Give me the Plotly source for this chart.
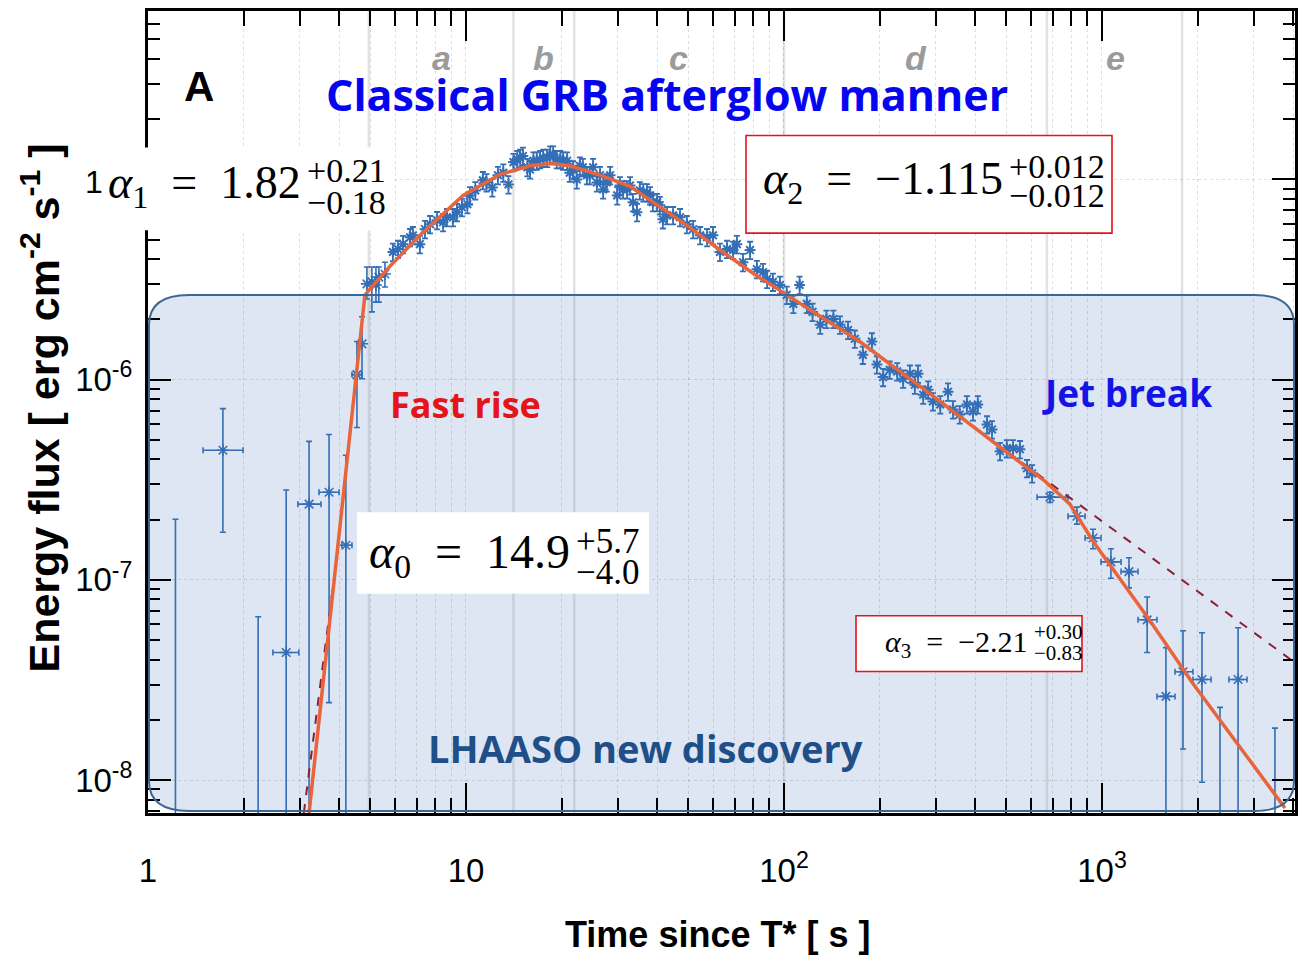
import math
import plotly.graph_objects as go

# ---------------- data ----------------
# dense afterglow light curve: time since T* [s], energy flux [erg cm^-2 s^-1]
dense_t = [5.89, 6.11, 6.34, 6.67, 6.81, 7.16, 7.43, 7.71, 8.11, 8.47, 8.71, 9.10, 9.37, 9.71,
           10.1, 10.3, 10.7, 11.3, 11.6, 12.1, 12.6, 13.1, 13.6, 14.1, 14.5, 14.8, 15.1, 15.6,
           15.9, 16.3, 16.7, 17.1, 17.5, 18.0, 18.4, 18.8, 19.3, 19.8, 20.2, 20.8, 21.2, 21.7,
           22.3, 22.8, 23.3, 24.0, 24.5, 25.1, 25.8, 26.4, 27.0, 27.7, 28.4, 29.9, 30.5, 31.2,
           32.1, 32.8, 33.5, 34.5, 35.2, 36.1, 37.1, 37.9, 38.7, 39.9, 40.7, 41.6, 42.9, 44.8,
           47.1, 49.5, 51.8, 54.5, 57.3, 59.8, 62.9, 66.2, 69.2, 71.1, 74.3, 78.2, 82.2, 85.9,
           88.5, 92.3, 97.1, 102, 107, 112, 118, 123, 130, 136, 143, 150, 159, 167,
           177, 189, 196, 205, 215, 227, 237, 249, 258, 264, 274, 284, 294, 310,
           328, 340, 357, 376, 393, 407, 435, 451, 478, 502, 525, 552, 581, 603]
dense_f = [4.34e-6, 4.49e-6, 4.75e-6, 5.14e-6, 5.26e-6, 4.75e-6, 5.64e-6, 5.97e-6, 6.25e-6, 6.11e-6, 6.47e-6, 6.47e-6, 6.86e-6, 7.26e-6,
           7.52e-6, 8.32e-6, 8.81e-6, 9.90e-6, 9.66e-6, 9.12e-6, 1.05e-5, 1.08e-5, 9.44e-6, 1.22e-5, 1.26e-5, 1.28e-5, 1.31e-5, 1.15e-5,
           1.12e-5, 1.24e-5, 1.24e-5, 1.26e-5, 1.28e-5, 1.28e-5, 1.33e-5, 1.33e-5, 1.26e-5, 1.26e-5, 1.24e-5, 1.24e-5, 1.08e-5, 1.12e-5,
           1.00e-5, 1.17e-5, 1.15e-5, 1.05e-5, 1.05e-5, 1.15e-5, 9.66e-6, 1.05e-5, 8.91e-6, 9.66e-6, 1.05e-5, 8.32e-6, 9.33e-6, 8.91e-6,
           8.91e-6, 9.33e-6, 7.69e-6, 6.86e-6, 8.81e-6, 8.61e-6, 8.61e-6, 8.32e-6, 7.69e-6, 7.69e-6, 7.43e-6, 6.32e-6, 6.62e-6, 6.62e-6,
           6.47e-6, 5.97e-6, 5.64e-6, 5.26e-6, 5.14e-6, 5.26e-6, 4.34e-6, 4.49e-6, 4.44e-6, 4.75e-6, 3.86e-6, 4.44e-6, 3.56e-6, 3.44e-6,
           3.18e-6, 3.08e-6, 2.97e-6, 2.65e-6, 2.39e-6, 2.97e-6, 2.39e-6, 2.18e-6, 1.88e-6, 2.01e-6, 2.01e-6, 1.88e-6, 1.77e-6, 1.60e-6,
           1.33e-6, 1.55e-6, 1.19e-6, 1.03e-6, 1.12e-6, 1.10e-6, 1.01e-6, 1.07e-6, 9.44e-7, 1.07e-6, 8.41e-7, 8.91e-7, 7.78e-7, 7.52e-7,
           8.71e-7, 7.10e-7, 6.70e-7, 7.52e-7, 6.93e-7, 7.52e-7, 5.97e-7, 5.64e-7, 4.39e-7, 4.54e-7, 4.54e-7, 4.49e-7, 3.61e-7, 3.40e-7]
dense_err_pct = 10  # typical relative size of the small error bars

# sparse points with explicit error bars (early LHAASO bins, rise, late bins)
sp_t = [1.22, 1.72, 2.22, 2.72, 3.21, 3.71, 4.19, 4.54, 4.71, 4.88, 5.06, 5.21, 5.32, 5.56,
        686, 834, 937, 1067, 1216, 1387, 1589, 1798, 2063, 2350, 2679, 3499]
sp_t_lo = [1.22, 1.49, 2.22, 2.47, 2.96, 3.45, 4.07, 4.38, 4.71, 4.88, 5.06, 5.21, 5.32, 5.56,
           625, 782, 885, 993, 1148, 1298, 1489, 1697, 1932, 2350, 2508, 3499]
sp_t_hi = [1.22, 1.99, 2.22, 2.98, 3.50, 3.99, 4.38, 4.71, 4.71, 4.88, 5.06, 5.21, 5.32, 5.56,
           782, 885, 993, 1148, 1298, 1489, 1697, 1932, 2203, 2350, 2858, 3499]
sp_f = [3e-9, 4.44e-7, 3e-9, 4.34e-8, 2.39e-7, 2.74e-7, 1.49e-7, 1.06e-6, 1.51e-6, 3.01e-6, 3.08e-6, 2.97e-6, 3.25e-6, 3.37e-6,
        2.59e-7, 2.08e-7, 1.62e-7, 1.23e-7, 1.10e-7, 6.32e-8, 2.62e-8, 3.48e-8, 3.18e-8, 3e-9, 3.18e-8, 3e-9]
sp_f_hi = [2.01e-7, 7.17e-7, 6.55e-8, 2.81e-7, 4.92e-7, 5.32e-7, 4.19e-7, 1.55e-6, 2.06e-6, 3.65e-6, 3.65e-6, 3.65e-6, 3.65e-6, 3.86e-6,
           2.74e-7, 2.31e-7, 1.79e-7, 1.43e-7, 1.29e-7, 8.22e-8, 4.59e-8, 5.57e-8, 5.45e-8, 2.31e-8, 5.77e-8, 1.82e-8]
sp_f_lo = [1e-9, 1.73e-7, 1e-9, 1e-9, 1e-9, 2.44e-8, 1e-9, 5.77e-7, 1.01e-6, 2.53e-6, 2.18e-6, 2.44e-6, 2.44e-6, 2.90e-6,
           2.44e-7, 1.90e-7, 1.43e-7, 1.02e-7, 9.12e-8, 4.34e-8, 1e-9, 1.43e-8, 9.77e-9, 1e-9, 1e-9, 1e-9]

# fitted smoothly-broken power law
fit_t = [3.21, 4.81, 5.77, 7.17, 9.79, 12.8, 15.9, 18.4, 21.2, 26.4, 32.8, 38.7, 49.5, 62.9, 79.9,
         102, 136, 173, 282, 454, 662, 793, 937, 1416, 1932, 2659, 3762]
fit_f = [6.85e-9, 2.65e-6, 3.69e-6, 5.26e-6, 8.32e-6, 1.06e-5, 1.17e-5, 1.20e-5, 1.17e-5, 1.05e-5, 9.23e-6, 7.69e-6, 5.90e-6, 4.44e-6, 3.40e-6,
         2.65e-6, 1.99e-6, 1.55e-6, 8.71e-7, 4.92e-7, 3.11e-7, 2.39e-7, 1.56e-7, 6.25e-8, 3.04e-8, 1.53e-8, 7.26e-9]
# single power-law extensions (dashed)
rise_ext_t = [3.09, 3.87]
rise_ext_f = [6.85e-9, 1.10e-7]
decay_ext_t = [454, 4046]
decay_ext_f = [4.92e-7, 3.86e-8]

# phase boundaries and labels
phase_bounds = [4.95, 14.1, 21.9, 100, 671, 1786]
phase_labels = ["a", "b", "c", "d", "e"]
phase_label_t = [8.35, 17.5, 46.7, 260, 1099]

x_tickvals = [1, 10, 100, 1000]
x_ticktext = ["1", "10", "10<sup>2</sup>", "10<sup>3</sup>"]
y_tickvals = [1e-8, 1e-7, 1e-6, 1e-5]
y_ticktext = ["10<sup>-8</sup>", "10<sup>-7</sup>", "10<sup>-6</sup>", ""]  # 10^-5 label hidden by the alpha1 box

# ---------------- layout helpers ----------------
W, H = 1309, 961
ML, MR, MT, MB = 148, 14, 8, 148
PW, PH = W - ML - MR, H - MT - MB


def px(x):
    return (x - ML) / PW


def py(y):
    return (H - MB - y) / PH


NARROW = "Liberation Sans Narrow, Arial Narrow, Liberation Sans, Arial"
SANS = "Open Sans, Noto Sans, Liberation Sans"
SERIF = "Liberation Serif, DejaVu Serif, serif"
BLUE = "#336eb6"

minor_x = [k * 10 ** d for d in range(0, 4) for k in range(2, 10)]
minor_y = [k * 10.0 ** d for d in range(-9, -4) for k in range(2, 10)]

fig = go.Figure()

# dense data
fig.add_trace(go.Scatter(
    x=dense_t, y=dense_f, mode="markers",
    marker=dict(symbol="asterisk-open", size=9, color=BLUE, line=dict(width=2, color=BLUE)),
    error_y=dict(type="percent", value=dense_err_pct, color=BLUE, thickness=1.8, width=3),
    hoverinfo="skip"))

# sparse data
fig.add_trace(go.Scatter(
    x=sp_t, y=sp_f, mode="markers",
    marker=dict(symbol="asterisk-open", size=10, color=BLUE, line=dict(width=1.6, color=BLUE)),
    error_y=dict(type="data", symmetric=False,
                 array=[h - f for h, f in zip(sp_f_hi, sp_f)],
                 arrayminus=[f - l for f, l in zip(sp_f, sp_f_lo)],
                 color=BLUE, thickness=1.6, width=3),
    error_x=dict(type="data", symmetric=False,
                 array=[h - t for h, t in zip(sp_t_hi, sp_t)],
                 arrayminus=[t - l for t, l in zip(sp_t, sp_t_lo)],
                 color=BLUE, thickness=1.6, width=3),
    hoverinfo="skip"))

# dashed extensions
for tx, fy in ((rise_ext_t, rise_ext_f), (decay_ext_t, decay_ext_f)):
    fig.add_trace(go.Scatter(x=tx, y=fy, mode="lines",
                             line=dict(color="#8c1f35", width=2, dash="dash"), hoverinfo="skip"))

# fit
fig.add_trace(go.Scatter(x=fit_t, y=fit_f, mode="lines",
                         line=dict(color="#e8643a", width=3.5), hoverinfo="skip"))

shapes = []
# LHAASO rounded region
l, r, t, b = 149, 1294, 293, 811
rx, ry = 40, 30


def P(x, y):
    return f"{px(x):.5f},{py(y):.5f}"


path = (f"M {P(l, t + ry)} Q {P(l, t)} {P(l + rx, t)} L {P(r - rx, t)} Q {P(r, t)} {P(r, t + ry)} "
        f"L {P(r, b - ry)} Q {P(r, b)} {P(r - rx, b)} L {P(l + rx, b)} Q {P(l, b)} {P(l, b - ry)} Z")
shapes.append(dict(type="path", path=path, xref="paper", yref="paper", layer="below",
                   fillcolor="#dde6f2", line=dict(width=0)))
shapes.append(dict(type="path", path=path, xref="paper", yref="paper", layer="above",
                   fillcolor="rgba(0,0,0,0)", line=dict(color="#3b6796", width=2)))

# phase boundary lines
for tb in phase_bounds:
    shapes.append(dict(type="line", xref="x", yref="paper", x0=tb, x1=tb, y0=0, y1=1,
                       layer="below", line=dict(color="rgba(150,150,150,0.28)", width=2.5)))


def box(x0, y0, x1, y1, fill="white", line=None):
    shapes.append(dict(type="rect", xref="paper", yref="paper", x0=px(x0), x1=px(x1), y0=py(y1), y1=py(y0),
                       fillcolor=fill, layer="above",
                       line=dict(width=0) if line is None else dict(color=line, width=1.6)))


box(100, 145, 395, 228)                 # alpha1 white background
box(746, 133, 1112, 231, line="#e3141c")  # alpha2 box
box(357, 511, 649, 593)                 # alpha0 box
box(856, 615, 1082, 671, line="#e3141c")  # alpha3 box

ann = []


def text(s, x, y, size, color="black", family=SANS, xanchor="center", yanchor="middle", angle=0):
    ann.append(dict(text=s, x=px(x), y=py(y), xref="paper", yref="paper", showarrow=False,
                    xanchor=xanchor, yanchor=yanchor, textangle=angle,
                    font=dict(family=family, size=size, color=color)))


text("<b>A</b>", 199, 84, 42, family=NARROW)
text("<b>Classical GRB afterglow manner</b>", 667, 92, 43, color="#0505f0")
for lab, tl in zip(phase_labels, phase_label_t):
    ann.append(dict(text=f"<b><i>{lab}</i></b>", x=math.log10(tl), y=py(55), xref="x", yref="paper",
                    xanchor="center", yanchor="middle", showarrow=False,
                    font=dict(family=NARROW, size=34, color="#9b9b9b")))
text("<b>Fast rise</b>", 465, 403, 36, color="#e5141b")
text("<b>Jet break</b>", 1127, 391, 37, color="#1414e6")
text("<b>LHAASO new discovery</b>", 645, 748, 38, color="#1f4f88")

# visible remnant of the 10^-5 tick label left of the alpha1 box
text("1", 94, 180, 32, family=NARROW)


def formula(idx, value, sup, sub, xr, ym, size, ssize, dy_sup, dy_sub):
    text(f"<i>α</i><sub>{idx}</sub>  =  {value}", xr, ym, size, family=SERIF, xanchor="right")
    text(sup, xr + 2, ym + dy_sup, ssize, family=SERIF, xanchor="left")
    text(sub, xr + 2, ym + dy_sub, ssize, family=SERIF, xanchor="left")


formula(1, "1.82", "+0.21", "−0.18", 303, 184, 46, 34, -16, 16)
formula(2, "−1.115", "+0.012", "−0.012", 1005, 180, 46, 34, -16, 13)
formula(0, "14.9", "+5.7", "−4.0", 572, 554, 48, 35, -14, 18)
formula(3, "−2.21", "+0.30", "−0.83", 1030, 643, 30, 21, -12, 9)

# axis titles
text("<b>Energy flux [ erg cm<sup>-2</sup> s<sup>-1</sup> ]</b>", 40, 407, 43,
     family="Liberation Sans, Arial", angle=-90)
text("<b>Time since T* [ s ]</b>", 717, 912, 36, family=NARROW, yanchor="top")

grid = "rgba(0,0,0,0.13)"
fig.update_layout(
    width=W, height=H, margin=dict(l=ML, r=MR, t=MT, b=MB),
    paper_bgcolor="white", plot_bgcolor="white", showlegend=False,
    shapes=shapes, annotations=ann,
    xaxis=dict(type="log", range=[0, 3.607], tickmode="array", tickvals=x_tickvals, ticktext=x_ticktext,
               ticks="inside", ticklen=30, tickwidth=2, tickcolor="black",
               showline=True, linewidth=3, linecolor="black", mirror="ticks",
               showgrid=True, gridcolor=grid, griddash="dot", gridwidth=1, zeroline=False,
               tickfont=dict(family=NARROW, size=33, color="black"), ticklabelstandoff=26,
               minor=dict(tickmode="array", tickvals=minor_x, ticks="inside", ticklen=15, tickwidth=2,
                          tickcolor="black", showgrid=True, gridcolor=grid, griddash="dot", gridwidth=1)),
    yaxis=dict(type="log", range=[-8.164, -4.159], tickmode="array", tickvals=y_tickvals, ticktext=y_ticktext,
               ticks="inside", ticklen=23, tickwidth=2, tickcolor="black",
               showline=True, linewidth=3, linecolor="black", mirror="ticks",
               showgrid=True, gridcolor=grid, griddash="dot", gridwidth=1, zeroline=False,
               tickfont=dict(family=NARROW, size=33, color="black"), ticklabelstandoff=6,
               minor=dict(tickmode="array", tickvals=minor_y, ticks="inside", ticklen=12, tickwidth=2,
                          tickcolor="black", showgrid=False)),
)

fig.write_html("out.html")
